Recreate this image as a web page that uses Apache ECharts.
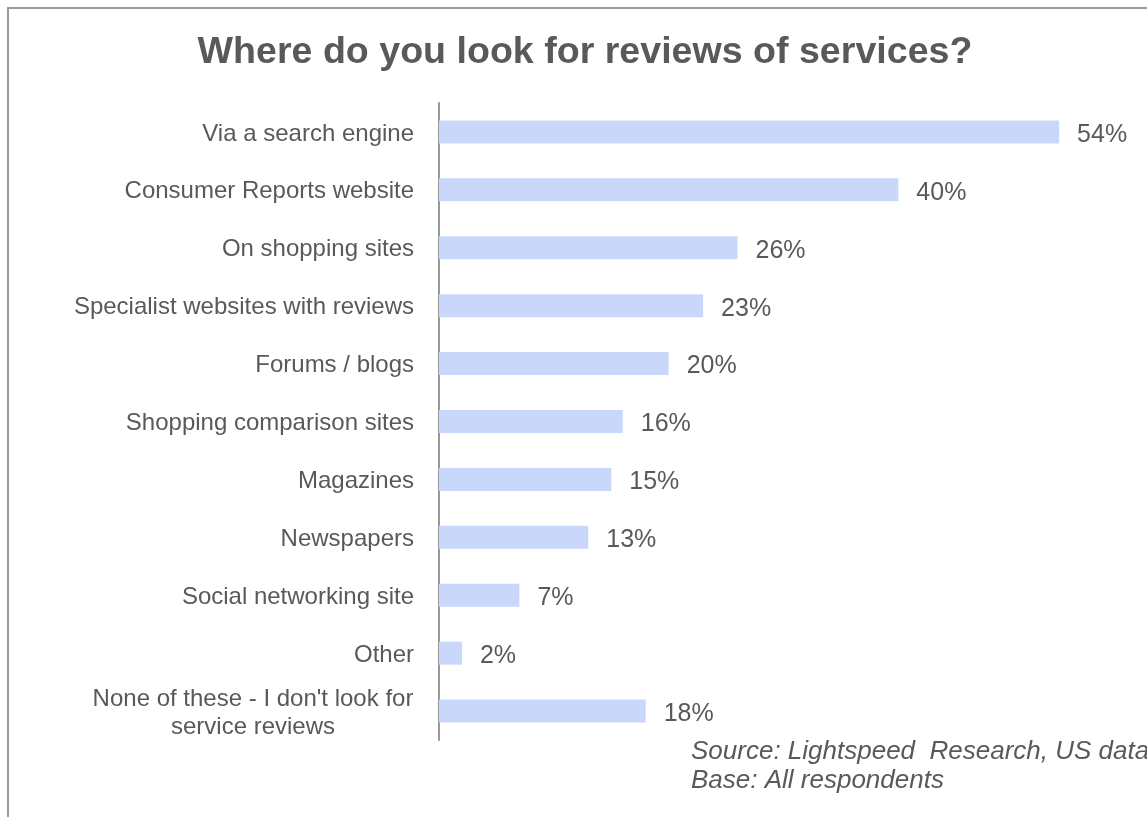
<!DOCTYPE html>
<html>
<head>
<meta charset="utf-8">
<script src="https://cdn.jsdelivr.net/npm/echarts@6/dist/echarts.min.js"></script>
<style>
  html, body { margin: 0; padding: 0; background: #fff; }
  #chart { width: 1147px; height: 817px; }
</style>
</head>
<body>
<div id="chart"></div>
<script>
// Survey answers, top to bottom
const categories = [
  'Via a search engine',
  'Consumer Reports website',
  'On shopping sites',
  'Specialist websites with reviews',
  'Forums / blogs',
  'Shopping comparison sites',
  'Magazines',
  'Newspapers',
  'Social networking site',
  'Other',
  "None of these - I don't look for\nservice reviews"
];
// Share of respondents (%)
const shares = [54, 40, 26, 23, 20, 16, 15, 13, 7, 2, 18];

const titleText = 'Where do you look for reviews of services?';
const sourceLines = ['Source: Lightspeed  Research, US data', 'Base: All respondents'];

const textColor = '#595959';
const font = '"Liberation Sans", Arial, sans-serif';

const chart = echarts.init(document.getElementById('chart'));

chart.setOption({
  animation: false,
  backgroundColor: '#fff',
  title: {
    text: titleText,
    left: 580,
    textAlign: 'center',
    top: 29,
    textStyle: { color: textColor, fontSize: 37.6, fontWeight: 'bold', fontFamily: font }
  },
  grid: { left: 439, right: 19, top: 103, height: 637 },
  xAxis: {
    type: 'value',
    min: 0,
    max: 60,
    show: false
  },
  yAxis: {
    type: 'category',
    inverse: true,
    data: categories,
    axisLine: { show: true, lineStyle: { color: '#999', width: 2 } },
    axisTick: { show: false },
    splitLine: { show: false },
    axisLabel: {
      margin: 25,
      color: textColor,
      fontSize: 24,
      fontFamily: font,
      padding: [4, 0, 0, 0],
      formatter: function (v) {
        if (v.indexOf('\n') < 0) return v;
        return v.split('\n').map(function (s) { return '{c|' + s + '}'; }).join('\n');
      },
      rich: {
        c: { width: 322, align: 'center', color: textColor, fontSize: 24, fontFamily: font, lineHeight: 28 }
      }
    }
  },
  series: [{
    type: 'bar',
    data: shares,
    barWidth: 23,
    itemStyle: { color: '#c9d8fa' },
    label: {
      show: true,
      position: 'right',
      distance: 18,
      offset: [0, 3],
      formatter: '{c}%',
      color: textColor,
      fontSize: 25,
      fontFamily: font
    }
  }],
  graphic: [
    {
      type: 'polyline',
      shape: { points: [[8, 830], [8, 8], [1160, 8]] },
      style: { stroke: '#999', lineWidth: 2, fill: null }
    },
    {
      type: 'text',
      left: 691,
      top: 737,
      style: {
        text: sourceLines.join('\n'),
        fill: textColor,
        font: 'italic 26px ' + font,
        lineHeight: 29
      }
    }
  ]
});
</script>
</body>
</html>
